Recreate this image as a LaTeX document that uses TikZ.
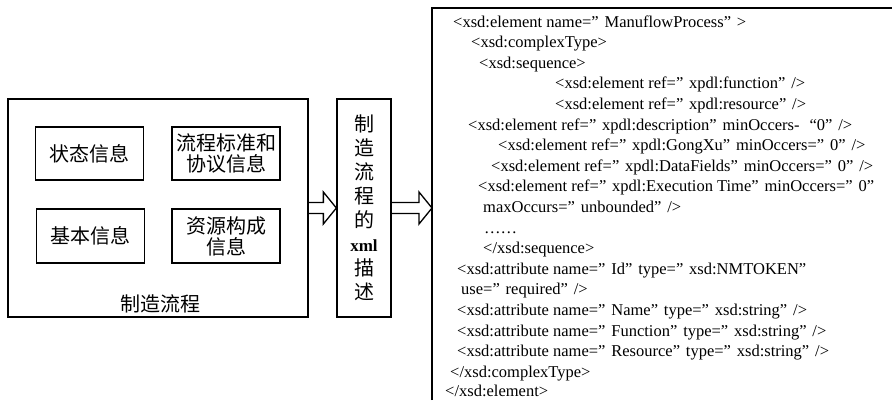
\documentclass[tikz,border=0pt]{standalone}
\usepackage{fontspec}
\setmainfont{Liberation Serif}
\newfontfamily\cjk{Noto Sans CJK SC}
\usetikzlibrary{calc}
% wide quotation marks as used in the schema listing
\newcommand\qclose{\makebox[0.8em][l]{”}}
\newcommand\qopen{\makebox[0.8em][r]{“}}
% hollow block arrow from one node anchor to another
\newcommand\hollowarrow[2]{%
  \draw[arrowshape] let \p1=(#1), \p2=(#2) in
    (\x1,\y1+5.5pt) -- (\x2-13pt,\y1+5.5pt) -- (\x2-13pt,\y1+16pt) -- (\x2,\y1)
    -- (\x2-13pt,\y1-16pt) -- (\x2-13pt,\y1-5.5pt) -- (\x1,\y1-5.5pt);}
\begin{document}
\begin{tikzpicture}[x=1pt,y=-1pt,
  box/.style={draw,line width=1.3pt,inner sep=0pt,align=center},
  cjktext/.style={font=\cjk\fontsize{20}{21}\selectfont},
  infobox/.style={box,cjktext,minimum width=108pt,minimum height=53pt},
  arrowshape/.style={draw,line width=1.3pt,line join=miter},
  codeline/.style={anchor=base west,inner sep=0pt,font=\fontsize{16.5}{18}\selectfont}]
\useasboundingbox (0,0) rectangle (892,400);

% manufacturing process and its parts
\node[box,minimum width=300pt,minimum height=218pt] (flow) at (158,208) {};
\node[infobox] (state) at (89.5,153.5) {状态信息};
\node[infobox] (standard) at (226,153.5) {流程标准和\\协议信息};
\node[infobox,minimum height=54pt] (basic) at (90.5,236) {基本信息};
\node[infobox,minimum height=54pt] (resource) at (226,236) {资源构成\\信息};
\node[cjktext,inner sep=0pt] (flowlabel) at (160,304) {制造流程};

% xml description column
\node[box,minimum width=54pt,minimum height=218pt,font=\cjk\fontsize{20}{24}\selectfont]
  (xmldesc) at (364,208)
  {制\\造\\流\\程\\的\\{\rmfamily\bfseries\fontsize{17}{24}\selectfont xml}\\描\\述};

% frame of the schema listing
\coordinate (framein) at (432,208);
\draw[line width=1.3pt] (432,400) |- (892,8);

\hollowarrow{flow.east}{xmldesc.west}
\hollowarrow{xmldesc.east}{framein}

% schema listing
\node[codeline] (l1) at (453,27) {<xsd:element name=\qclose ManuflowProcess\qclose >};
\node[codeline] (l2) at (471,47.6) {<xsd:complexType>};
\node[codeline] (l3) at (479,68.2) {<xsd:sequence>};
\node[codeline] (l4) at (555,88.8) {<xsd:element ref=\qclose xpdl:function\qclose />};
\node[codeline] (l5) at (555,109.4) {<xsd:element ref=\qclose xpdl:resource\qclose />};
\node[codeline] (l6) at (468,130) {<xsd:element ref=\qclose xpdl:description\qclose minOccers- \qopen 0\qclose />};
\node[codeline] (l7) at (498,150.6) {<xsd:element ref=\qclose xpdl:GongXu\qclose minOccers=\qclose 0\qclose />};
\node[codeline] (l8) at (491,171.2) {<xsd:element ref=\qclose xpdl:DataFields\qclose minOccers=\qclose 0\qclose />};
\node[codeline] (l9) at (478,191.8) {<xsd:element ref=\qclose xpdl:Execution Time\qclose minOccers=\qclose 0\qclose};
\node[codeline] (l10) at (483,212.4) {maxOccurs=\qclose unbounded\qclose />};
\node[codeline] (l11) at (484,233) {……};
\node[codeline] (l12) at (483,253.6) {</xsd:sequence>};
\node[codeline] (l13) at (457,274.2) {<xsd:attribute name=\qclose Id\qclose type=\qclose xsd:NMTOKEN\qclose};
\node[codeline] (l14) at (461,294.8) {use=\qclose required\qclose />};
\node[codeline] (l15) at (457,315.4) {<xsd:attribute name=\qclose Name\qclose type=\qclose xsd:string\qclose />};
\node[codeline] (l16) at (457,336) {<xsd:attribute name=\qclose Function\qclose type=\qclose xsd:string\qclose />};
\node[codeline] (l17) at (457,356.6) {<xsd:attribute name=\qclose Resource\qclose type=\qclose xsd:string\qclose />};
\node[codeline] (l18) at (450,377.2) {</xsd:complexType>};
\node[codeline] (l19) at (445,396.5) {</xsd:element>};
\end{tikzpicture}
\end{document}
